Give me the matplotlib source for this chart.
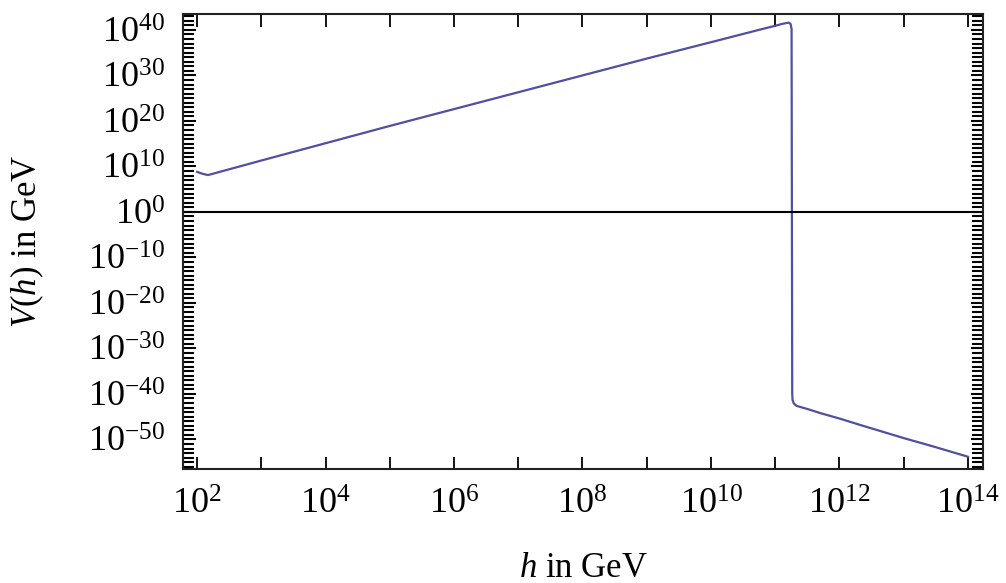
import numpy as np
import matplotlib
matplotlib.use("Agg")
import matplotlib.pyplot as plt
from matplotlib.ticker import FixedLocator, NullFormatter

plt.rcParams['font.family'] = ['Liberation Serif', 'DejaVu Serif']
plt.rcParams['mathtext.fontset'] = 'custom'
plt.rcParams['mathtext.rm'] = 'Liberation Serif'
plt.rcParams['mathtext.it'] = 'Liberation Serif:italic'

# Effective potential |V(h)| versus field value h (decimal exponents)
log_h = [2.00, 2.08, 2.17, 3.0, 4.0, 5.0, 6.0, 7.0, 8.0, 9.0, 10.0, 10.8,
         11.0, 11.1, 11.17, 11.21, 11.24, 11.255, 11.26, 11.265, 11.27,
         11.29, 11.33, 11.4, 11.5, 11.7, 12.0, 12.32, 13.0, 13.5, 14.0]
log_V = [8.8, 8.4, 8.1, 11.3, 15.1, 18.9, 22.6, 26.3, 30.0, 33.7, 37.3, 40.2,
         40.9, 41.3, 41.5, 41.6, 41.3, 40.2, 0.0, -40.0, -41.3,
         -42.1, -42.6, -42.9, -43.3, -44.2, -45.4, -46.8, -49.7, -51.7, -53.8]

x_ticks = [2, 4, 6, 8, 10, 12, 14]
y_ticks = [-50, -40, -30, -20, -10, 0, 10, 20, 30, 40]

h = 10.0 ** np.array(log_h)
V = 10.0 ** np.array(log_V)

fig = plt.figure(figsize=(10.06, 5.83), dpi=100)
ax = fig.add_axes([0.182, 0.1955, 0.795, 0.7805])
ax.set_xscale('log')
ax.set_yscale('log')

ax.plot(h, V, color='#4f4fa3', lw=1.6, solid_joinstyle='round')
ax.axhline(1.0, color='black', lw=1.5)

ax.set_xlim(10 ** 1.782, 10 ** 14.233)
ax.set_ylim(10 ** -56.5, 10 ** 43.5)

# ticks: x at every decade (labelled every second), y at every decade (labelled every tenth)
ax.xaxis.set_major_locator(FixedLocator([10.0 ** e for e in x_ticks]))
ax.xaxis.set_minor_locator(FixedLocator([10.0 ** e for e in range(3, 14, 2)]))
ax.set_xticklabels([r'$10^{%d}$' % e for e in x_ticks])
ax.xaxis.set_minor_formatter(NullFormatter())

ax.yaxis.set_major_locator(FixedLocator([10.0 ** e for e in y_ticks]))
ax.yaxis.set_minor_locator(FixedLocator([10.0 ** e for e in range(-56, 44) if e % 10 != 0]))
ax.set_yticklabels([r'$10^{%d}$' % e if e >= 0 else r'$10^{-%d}$' % -e for e in y_ticks])
ax.yaxis.set_minor_formatter(NullFormatter())

ax.tick_params(axis='x', which='both', direction='in', top=True, bottom=True,
               length=9, width=1.3, labelsize=26, pad=14, colors='black')
ax.tick_params(axis='y', which='major', direction='in', left=True, right=True,
               length=9, width=1.5, labelsize=26, pad=13)
ax.tick_params(axis='y', which='minor', direction='in', left=True, right=True,
               length=8, width=1.5)

for s in ax.spines.values():
    s.set_linewidth(1.5)
    s.set_color('#222222')

ax.set_xlabel(r'$h$ in GeV', fontsize=25)
ax.set_ylabel(r'$V(h)$ in GeV', fontsize=25)
ax.xaxis.set_label_coords(0.5, -0.182)
ax.yaxis.set_label_coords(-0.172, 0.5)

fig.savefig('out.png', dpi=100)
